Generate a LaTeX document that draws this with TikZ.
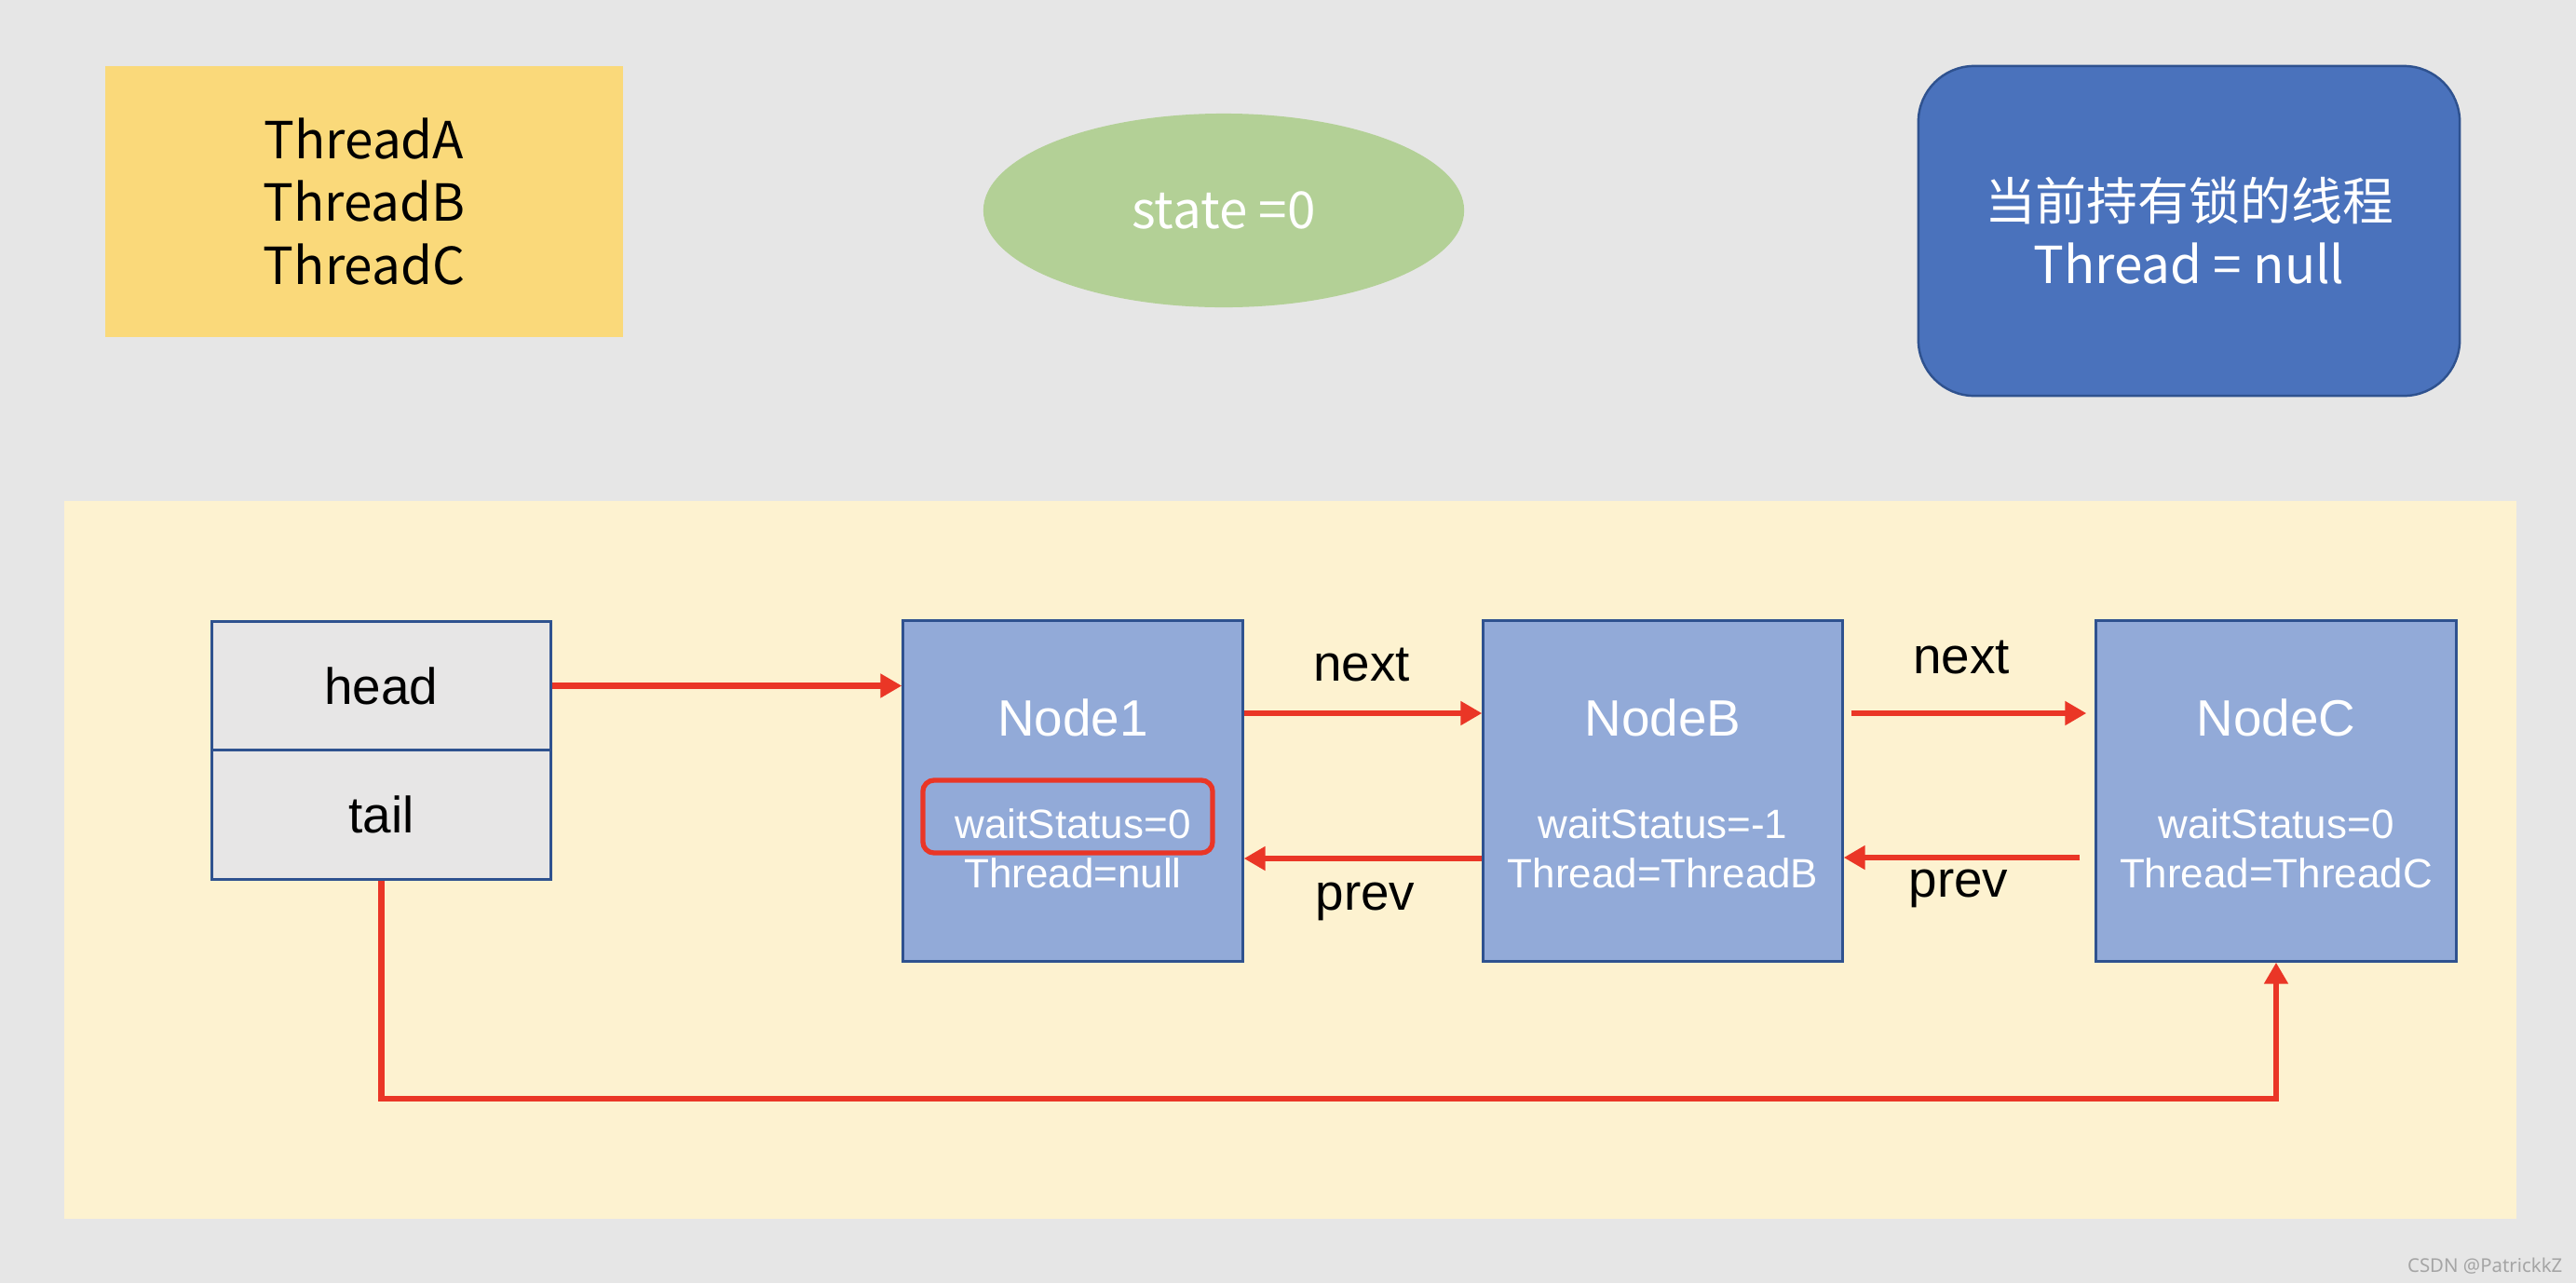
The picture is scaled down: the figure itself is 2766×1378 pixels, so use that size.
\documentclass[tikz,border=0pt]{standalone}
\usepackage{fontspec}
\setmainfont{Liberation Sans}
\newfontfamily\cjk{Noto Sans CJK SC}
\newfontfamily\wmfont{Noto Sans}
\usetikzlibrary{shapes.geometric,arrows.meta}
\definecolor{bggray}{RGB}{230,230,230}
\definecolor{gold}{RGB}{250,217,122}
\definecolor{sage}{RGB}{179,208,150}
\definecolor{royal}{RGB}{74,114,188}
\definecolor{royaldark}{RGB}{47,82,143}
\definecolor{cream}{RGB}{253,242,208}
\definecolor{cellgray}{RGB}{231,230,230}
\definecolor{nodeblue}{RGB}{146,170,216}
\definecolor{arrred}{RGB}{234,54,38}
\definecolor{wmgray}{RGB}{165,165,165}
\begin{document}
\begin{tikzpicture}[x=0.01cm,y=-0.01cm,
  toptext/.style={font=\cjk\fontsize{15.6}{19.3}\selectfont, align=center, inner sep=0pt},
  cell/.style={draw=royaldark, line width=0.9pt, fill=cellgray, minimum width=3.63cm, minimum height=1.385cm, inner sep=0pt, font=\fontsize{15.6}{18}\selectfont},
  qnode/.style={draw=royaldark, line width=0.9pt, fill=nodeblue, inner sep=0pt, minimum height=3.65cm},
  ntitle/.style={text=white, inner sep=0pt, font=\fontsize{15.6}{18}\selectfont},
  ninfo/.style={text=white, inner sep=0pt, font=\fontsize{12.5}{15}\selectfont},
  lbl/.style={inner sep=0pt, font=\fontsize{15.6}{18}\selectfont},
  arr/.style={draw=arrred, line width=1.85pt, -{Triangle[length=6.5pt,width=7pt]}}
]
\fill[bggray] (0,0) rectangle (2766,1378);
\useasboundingbox (0,0) rectangle (2766,1378);

% top row
\node[fill=gold, minimum width=5.56cm, minimum height=2.91cm, inner sep=0pt] (threads) at (391,216.5) {};
\node[toptext] (threadstxt) at (threads.center) {ThreadA\\ThreadB\\ThreadC};
\node[ellipse, fill=sage, minimum width=5.16cm, minimum height=2.08cm, inner sep=0pt] (state) at (1314,226) {};
\node[toptext, text=white] (statetxt) at (state.center) {state =0};
\node[rectangle, rounded corners=0.6cm, draw=royaldark, line width=0.7pt, fill=royal, minimum width=5.81cm, minimum height=3.54cm, inner sep=0pt] (owner) at (2350.5,248) {};
\node[toptext, text=white] (ownertxt) at (owner.center) {当前持有锁的线程\\Thread = null};

% queue area
\fill[cream] (69,538) rectangle (2702,1309);

\node[cell] (head) at (409.5,736.5) {head};
\node[cell] (tail) at (409.5,875) {tail};

\node[qnode, minimum width=3.64cm] (n1) at (1152,849.5) {};
\node[qnode, minimum width=3.85cm] (nB) at (1785.5,849.5) {};
\node[qnode, minimum width=3.86cm] (nC) at (2444,849.5) {};

\node[ntitle] (n1t) at (1152,771) {Node1};
\node[ninfo] (n1w) at (1152,885) {waitStatus=0};
\node[ninfo] (n1th) at (1152,938) {Thread=null};
\node[ntitle] (nBt) at (1785.5,771) {NodeB};
\node[ninfo] (nBw) at (1785.5,885) {waitStatus=-1};
\node[ninfo] (nBth) at (1785.5,938) {Thread=ThreadB};
\node[ntitle] (nCt) at (2444,771) {NodeC};
\node[ninfo] (nCw) at (2444,885) {waitStatus=0};
\node[ninfo] (nCth) at (2444,938) {Thread=ThreadC};

\node[draw=arrred, line width=1.5pt, rounded corners=0.12cm, minimum width=3.11cm, minimum height=0.78cm, inner sep=0pt] (mark) at (1146.5,877) {};

% arrows
\draw[arr] (head.east) -- (head.east -| n1.west);
\draw[arr] (n1.east |- 0,766) -- (nB.west |- 0,766);
\draw[arr] (nB.west |- 0,922) -- (n1.east |- 0,922);
\draw[arr] ([xshift=0.08cm]nB.east |- 0,766) -- ([xshift=-0.09cm]nC.west |- 0,766);
\draw[arr] ([xshift=-0.16cm]nC.west |- 0,921) -- (nB.east |- 0,921);
\coordinate (low) at (1400,1180);
\draw[arr] (tail.south) |- (low) -| (nC.south);

\node[lbl] (next1) at (1462,714) {next};
\node[lbl] (prev1) at (1466,968) {prev};
\node[lbl] (next2) at (2106,706) {next};
\node[lbl] (prev2) at (2103,954) {prev};

\node[text=wmgray, inner sep=0pt, font=\wmfont\fontsize{5.8}{7}\selectfont, anchor=east] (wm) at (2752,1360) {CSDN @PatrickkZ};
\end{tikzpicture}
\end{document}
